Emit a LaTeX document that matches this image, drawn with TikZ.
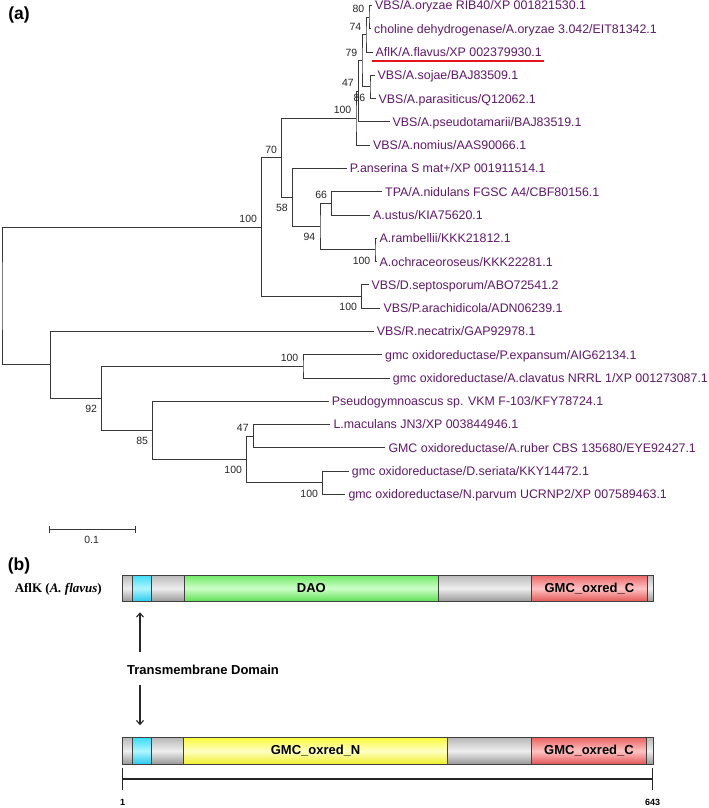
\documentclass[tikz,border=0pt]{standalone}
\usepackage{fontspec}
\setmainfont{Liberation Sans}
\newfontfamily\serifbf{Liberation Serif}
\usetikzlibrary{arrows.meta,calc}
\definecolor{leafcol}{RGB}{95,25,105}
\definecolor{linecol}{RGB}{55,55,55}
\definecolor{ulred}{RGB}{230,20,30}
\definecolor{gtop}{RGB}{185,185,185}\definecolor{gmid}{RGB}{238,238,238}\definecolor{gbot}{RGB}{150,150,150}
\definecolor{ctop}{RGB}{60,220,245}\definecolor{cmid}{RGB}{175,246,255}\definecolor{cbot}{RGB}{40,200,235}
\definecolor{grtop}{RGB}{110,235,100}\definecolor{grmid}{RGB}{205,255,200}\definecolor{grbot}{RGB}{90,222,80}
\definecolor{rtop}{RGB}{235,100,100}\definecolor{rmid}{RGB}{255,195,195}\definecolor{rbot}{RGB}{225,85,85}
\definecolor{ytop}{RGB}{250,250,60}\definecolor{ymid}{RGB}{255,255,195}\definecolor{ybot}{RGB}{238,238,40}
\begin{document}
\begin{tikzpicture}[x=1pt,y=-1pt,
  br/.style={draw=linecol, line width=1pt},
  leaf/.style={anchor=base west, inner sep=0pt, text=leafcol, font=\fontsize{12.4}{14}\selectfont, yshift=-4.4pt, xshift=3pt},
  bsbase/.style={anchor=base east, inner sep=0pt, text=black!85, font=\fontsize{10.5}{12}\selectfont, xshift=-4.5pt},
  bsu/.style={bsbase, yshift=4.5pt},
  bsd/.style={bsbase, yshift=-14.3pt},
  panel/.style={inner sep=0pt, font=\bfseries\fontsize{17.5}{20}\selectfont},
  seg/.style={draw=black!75, line width=0.7pt, inner sep=0pt, outer sep=0pt, minimum height=26.7pt, font=\bfseries\fontsize{13}{15}\selectfont},
  sgray/.style={seg, top color=gtop, bottom color=gbot, middle color=gmid},
  scyan/.style={seg, top color=ctop, bottom color=cbot, middle color=cmid},
  sgreen/.style={seg, top color=grtop, bottom color=grbot, middle color=grmid},
  sred/.style={seg, top color=rtop, bottom color=rbot, middle color=rmid},
  syellow/.style={seg, top color=ytop, bottom color=ybot, middle color=ymid},
  arr/.style={line width=1.1pt, draw=black!85, -{Straight Barb[length=4pt,width=7pt]}},
  posl/.style={inner sep=0pt, font=\bfseries\fontsize{9}{10}\selectfont}
]
\useasboundingbox (0,0) rectangle (709,808);

% ---------- panel labels
\node[panel] (pa) at (19,14.5) {(a)};
\node[panel] (pb) at (19,566) {(b)};

% ---------- leaf tips
\coordinate (t1) at (372,5.5);
\coordinate (t2) at (371,28.8);
\coordinate (t3) at (372.5,52.1);
\coordinate (t4) at (374.5,75.3);
\coordinate (t5) at (375.5,98.6);
\coordinate (t6) at (389.5,121.9);
\coordinate (t7) at (370,145.2);
\coordinate (t8) at (346.7,168.5);
\coordinate (t9) at (382,191.7);
\coordinate (t10) at (370,215.0);
\coordinate (t11) at (376.5,238.3);
\coordinate (t12) at (376.5,261.6);
\coordinate (t13) at (368.5,284.9);
\coordinate (t14) at (380.3,308.1);
\coordinate (t15) at (373.7,331.4);
\coordinate (t16) at (382,354.7);
\coordinate (t17) at (389.7,378.0);
\coordinate (t18) at (328.7,401.3);
\coordinate (t19) at (330.3,424.5);
\coordinate (t20) at (385.3,447.8);
\coordinate (t21) at (348.7,471.1);
\coordinate (t22) at (345.3,494.4);

% ---------- internal nodes
\coordinate (n80) at (369,17.15);
\coordinate (n74) at (366,34.6);
\coordinate (n86) at (370,86.95);
\coordinate (n79) at (362,60.8);
\coordinate (n47a) at (358.5,91.35);
\coordinate (n100a) at (356,118.3);
\coordinate (n66) at (331.7,203.35);
\coordinate (n100b) at (375,249.95);
\coordinate (n94) at (320,226.65);
\coordinate (n58) at (292.5,197.6);
\coordinate (n70) at (281.7,157.95);
\coordinate (n100c) at (361.7,296.5);
\coordinate (n100d) at (261.7,227.2);
\coordinate (n100e) at (303,366.35);
\coordinate (n100f) at (322.7,482.75);
\coordinate (n47b) at (253.3,436.15);
\coordinate (n100g) at (246.7,459.45);
\coordinate (n85) at (152.7,430.4);
\coordinate (n92) at (101.7,398.4);
\coordinate (nR) at (50.7,364.9);
\coordinate (root) at (2,296.05);

% ---------- branches
\draw[br] (t1) -| (n80) |- (t2);
\draw[br] (n80) -| (n74) |- (t3);
\draw[br] (t4) -| (n86) |- (t5);
\draw[br] (n74) -| (n79) |- (n86);
\draw[br] (n79) -| (n47a) |- (t6);
\draw[br] (n47a) -| (n100a) |- (t7);
\draw[br] (t9) -| (n66) |- (t10);
\draw[br] (t11) -| (n100b) |- (t12);
\draw[br] (n66) -| (n94) |- (n100b);
\draw[br] (t8) -| (n58) |- (n94);
\draw[br] (n100a) -| (n70) |- (n58);
\draw[br] (t13) -| (n100c) |- (t14);
\draw[br] (n70) -| (n100d) |- (n100c);
\draw[br] (t16) -| (n100e) |- (t17);
\draw[br] (t19) -| (n47b) |- (t20);
\draw[br] (t21) -| (n100f) |- (t22);
\draw[br] (n47b) -| (n100g) |- (n100f);
\draw[br] (t18) -| (n85) |- (n100g);
\draw[br] (n100e) -| (n92) |- (n85);
\draw[br] (t15) -| (nR) |- (n92);
\draw[br] (n100d) -| (root) |- (nR);

% ---------- leaf labels
\node[leaf] (l1) at (t1) {VBS/A.oryzae RIB40/XP 001821530.1};
\node[leaf] (l2) at (t2) {choline dehydrogenase/A.oryzae 3.042/EIT81342.1};
\node[leaf] (l3) at (t3) {AflK/A.flavus/XP 002379930.1};
\node[leaf] (l4) at (t4) {VBS/A.sojae/BAJ83509.1};
\node[leaf] (l5) at (t5) {VBS/A.parasiticus/Q12062.1};
\node[leaf] (l6) at (t6) {VBS/A.pseudotamarii/BAJ83519.1};
\node[leaf] (l7) at (t7) {VBS/A.nomius/AAS90066.1};
\node[leaf] (l8) at (t8) {P.anserina S mat+/XP 001911514.1};
\node[leaf] (l9) at (t9) {TPA/A.nidulans FGSC A4/CBF80156.1};
\node[leaf] (l10) at (t10) {A.ustus/KIA75620.1};
\node[leaf] (l11) at (t11) {A.rambellii/KKK21812.1};
\node[leaf] (l12) at (t12) {A.ochraceoroseus/KKK22281.1};
\node[leaf] (l13) at (t13) {VBS/D.septosporum/ABO72541.2};
\node[leaf] (l14) at (t14) {VBS/P.arachidicola/ADN06239.1};
\node[leaf] (l15) at (t15) {VBS/R.necatrix/GAP92978.1};
\node[leaf] (l16) at (t16) {gmc oxidoreductase/P.expansum/AIG62134.1};
\node[leaf] (l17) at (t17) {gmc oxidoreductase/A.clavatus NRRL 1/XP 001273087.1};
\node[leaf] (l18) at (t18) {Pseudogymnoascus sp. VKM F-103/KFY78724.1};
\node[leaf] (l19) at (t19) {L.maculans JN3/XP 003844946.1};
\node[leaf] (l20) at (t20) {GMC oxidoreductase/A.ruber CBS 135680/EYE92427.1};
\node[leaf] (l21) at (t21) {gmc oxidoreductase/D.seriata/KKY14472.1};
\node[leaf] (l22) at (t22) {gmc oxidoreductase/N.parvum UCRNP2/XP 007589463.1};

\draw[ulred, line width=1.8pt] ([xshift=-4pt,yshift=-4.5pt]l3.base west) -- ([xshift=2pt,yshift=-4.5pt]l3.base east);

% ---------- bootstrap values
\node[bsu] (b80) at (n80) {80};
\node[bsu] (b74) at (n74) {74};
\node[bsu] (b79) at (n79) {79};
\node[bsu] (b47a) at (n47a) {47};
\node[bsd] (b86) at (n86) {86};
\node[bsu] (b100a) at (n100a) {100};
\node[bsu] (b70) at (n70) {70};
\node[bsd] (b58) at (n58) {58};
\node[bsu] (b66) at (n66) {66};
\node[bsd] (b94) at (n94) {94};
\node[bsd] (b100b) at (n100b) {100};
\node[bsd] (b100c) at (n100c) {100};
\node[bsu] (b100d) at (n100d) {100};
\node[bsu] (b100e) at (n100e) {100};
\node[bsd] (b92) at (n92) {92};
\node[bsd] (b85) at (n85) {85};
\node[bsu] (b47b) at (n47b) {47};
\node[bsd] (b100g) at (n100g) {100};
\node[bsd] (b100f) at (n100f) {100};

% ---------- scale bar
\coordinate (sb1) at (49.3,529.3);
\coordinate (sb2) at (135,529.3);
\draw[br] (sb1) -- (sb2);
\draw[br] ([yshift=3.6pt]sb1) -- ([yshift=-3.6pt]sb1);
\draw[br] ([yshift=3.6pt]sb2) -- ([yshift=-3.6pt]sb2);
\node[inner sep=0pt, font=\fontsize{10.5}{12}\selectfont, text=black!85] (sbl) at (91.7,540) {0.1};

% ---------- panel (b): top protein
\node[anchor=base east, inner sep=0pt, font=\fontsize{13}{15}\selectfont] (aflk) at (102,592) {\serifbf\bfseries AflK (\textit{A. flavus})};
\node[sgray, minimum width=10.4pt] (gA1) at (127.5,588.35) {};
\node[scyan, minimum width=19pt] (cyA) at (142.2,588.35) {};
\node[sgray, minimum width=33pt] (gA2) at (168.2,588.35) {};
\node[sgreen, minimum width=253.3pt] (dao) at (311.35,588.35) {DAO};
\node[sgray, minimum width=93.7pt] (gA3) at (484.85,588.35) {};
\node[sred, minimum width=115.3pt] (redA) at (589.35,588.35) {GMC\_oxred\_C};
\node[sgray, minimum width=6.7pt] (gA4) at (650.35,588.35) {};

% ---------- transmembrane label and arrows
\node[inner sep=0pt, font=\bfseries\fontsize{13}{15}\selectfont] (tm) at (203,670) {Transmembrane Domain};
\coordinate (upTail) at (140,652.3);
\coordinate (dnTail) at (140,685);
\draw[arr, shorten >=10.6pt] (upTail) -- (upTail |- cyA.south);

% ---------- panel (b): bottom protein
\node[sgray, minimum width=10.2pt] (gB1) at (127.4,751) {};
\node[scyan, minimum width=19.2pt] (cyB) at (142.1,751) {};
\node[sgray, minimum width=32pt] (gB2) at (167.7,751) {};
\node[syellow, minimum width=263.8pt] (gmcn) at (315.6,751) {GMC\_oxred\_N};
\node[sgray, minimum width=84pt] (gB3) at (489.5,751) {};
\node[sred, minimum width=115pt] (redB) at (589,751) {GMC\_oxred\_C};
\node[sgray, minimum width=7.2pt] (gB4) at (650.1,751) {};

\draw[arr, shorten >=12.4pt] (dnTail) -- (dnTail |- cyB.north);

% ---------- residue scale
\coordinate (p1) at (122.7,779);
\coordinate (p2) at (652.5,779);
\draw[line width=1.5pt, draw=black!85] (p1) -- (p2);
\draw[line width=1.5pt, draw=black!85] ([yshift=10.7pt]p1) -- ([yshift=-11pt]p1);
\draw[line width=1.5pt, draw=black!85] ([yshift=10.7pt]p2) -- ([yshift=-11pt]p2);
\node[posl] (r1) at (122.7,802) {1};
\node[posl] (r643) at (652.5,802) {643};
\end{tikzpicture}
\end{document}
